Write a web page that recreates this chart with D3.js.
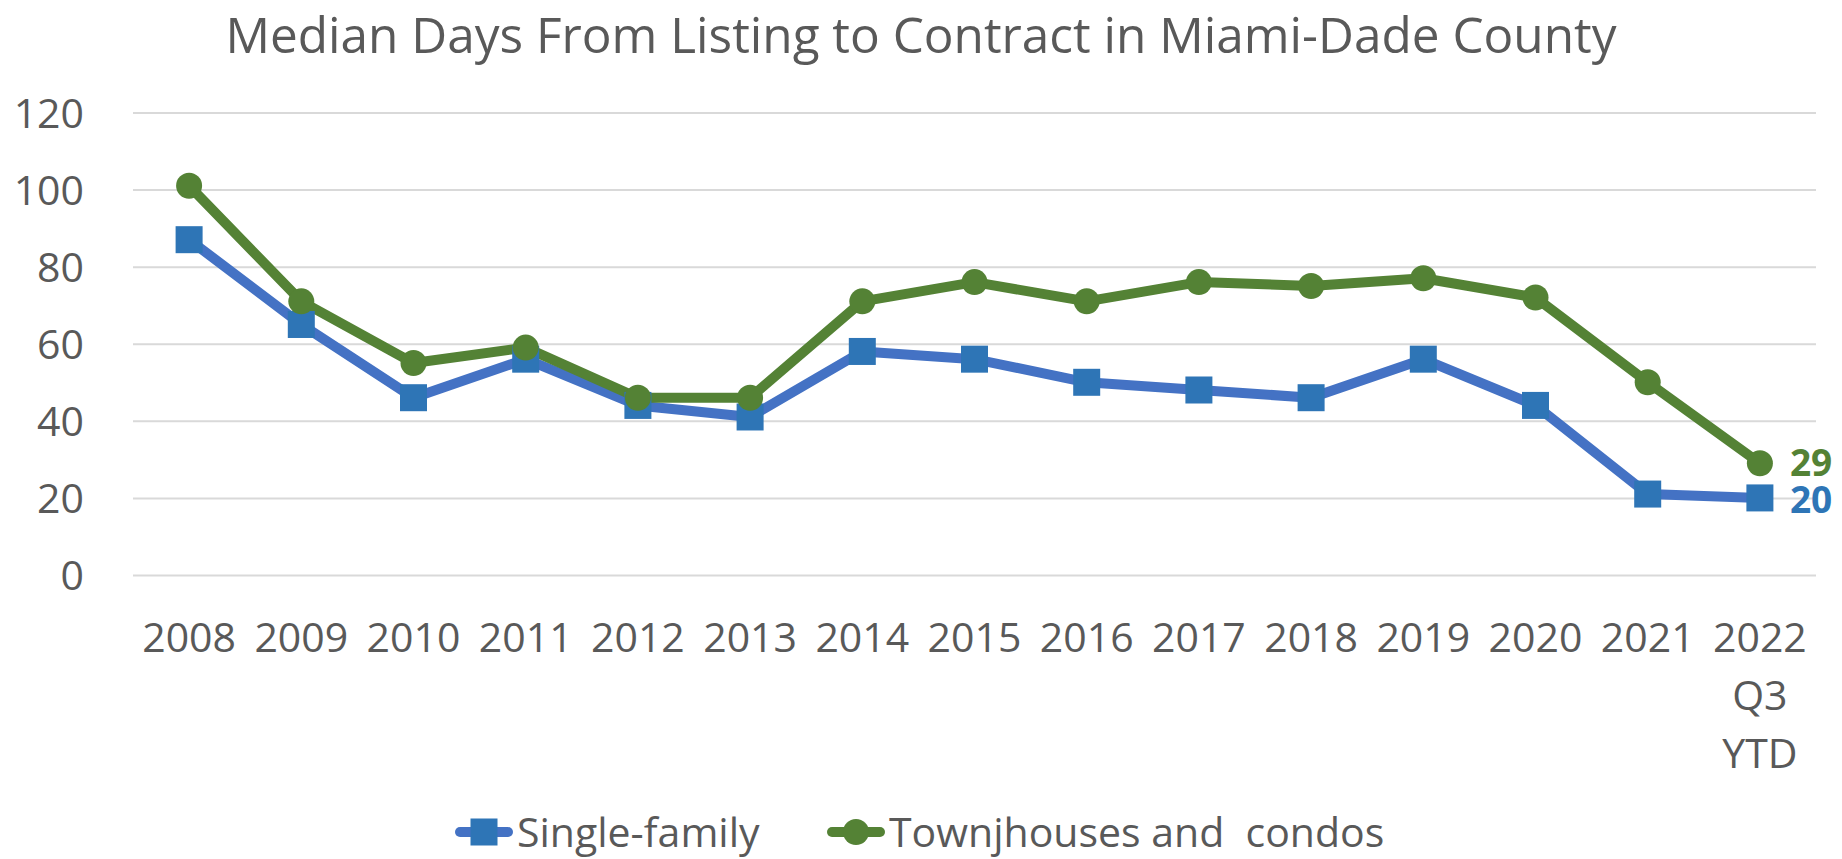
<!DOCTYPE html>
<html>
<head>
<meta charset="utf-8">
<script src="https://cdn.jsdelivr.net/npm/d3@7"></script>
<style>
    body { margin: 0; background: #fff; }
    svg text { font-family: "Open Sans", sans-serif; fill: #595959; }
</style>
</head>
<body>
<div id="vis"></div>
<script>
// Chart data
var years = ['2008', '2009', '2010', '2011', '2012', '2013', '2014', '2015',
             '2016', '2017', '2018', '2019', '2020', '2021', '2022'];
var yearLabels = ['2008', '2009', '2010', '2011', '2012', '2013', '2014', '2015',
                  '2016', '2017', '2018', '2019', '2020', '2021', '2022|Q3|YTD'];
var singleFamily = [87, 65, 46, 56, 44, 41, 58, 56, 50, 48, 46, 56, 44, 21, 20];
var townhouses = [101, 71, 55, 59, 46, 46, 71, 76, 71, 76, 75, 77, 72, 50, 29];
var yTicks = [0, 20, 40, 60, 80, 100, 120];
var seriesNames = ['Single-family', 'Townjhouses and  condos'];
var titleText = 'Median Days From Listing to Contract in Miami-Dade County';

// Colours for the two series
var blueLine = '#4472C4', blueMark = '#2E75B6', green = '#548235';

// Margin in SVG for axes and titles
var margin = { left: 133, top: 112.5, right: 26, bottom: 284 };
var width = 1842 - margin.left - margin.right;
var height = 859 - margin.top - margin.bottom;

var svg = d3.select('#vis')
    .append('svg')
    .attr('width', 1842)
    .attr('height', 859);

var g = svg.append('g')
    .attr('transform', 'translate(' + margin.left + ',' + margin.top + ')');

/* ********************************** Scales ********************************** */
var xScale = d3.scaleBand()
    .domain(years)
    .range([0, width])
    .padding(0);

var yScale = d3.scaleLinear()
    .domain([0, 120])
    .range([height, 0]);

var xMid = function(i) { return xScale(years[i]) + xScale.bandwidth() / 2; };

/* ********************************** Axes ********************************** */
// y axis doubles as the gridlines
var yAxis = d3.axisLeft(yScale)
    .tickValues(yTicks)
    .tickSize(-width)
    .tickPadding(49);

var yAxisG = g.append('g').attr('class', 'axis').call(yAxis);
yAxisG.select('.domain').remove();
yAxisG.selectAll('line').attr('stroke', '#D9D9D9').attr('stroke-width', 2);
yAxisG.selectAll('text')
    .attr('font-size', 41)
    .attr('dy', '0.36em');
yAxisG.attr('font-family', null).attr('font-size', null);

var xAxis = d3.axisBottom(xScale).tickSize(0)
    .tickFormat(function(d, i) { return yearLabels[i]; });

var xAxisG = g.append('g')
    .attr('transform', 'translate(0,' + height + ')')
    .call(xAxis);
xAxisG.select('.domain').remove();
xAxisG.attr('font-family', null).attr('font-size', null);
xAxisG.selectAll('text')
    .attr('font-size', 41)
    .attr('dy', null)
    .each(function(d, i) {
        var t = d3.select(this);
        var lines = yearLabels[i].split('|');
        t.text(null);
        lines.forEach(function(l, j) {
            t.append('tspan')
                .attr('x', 0)
                .attr('y', 77 + j * 58)
                .text(l);
        });
    });

/* ********************************** Lines and markers ********************************** */
var line = d3.line()
    .x(function(d, i) { return xMid(i); })
    .y(function(d) { return yScale(d); });

g.append('path')
    .datum(singleFamily)
    .attr('d', line)
    .attr('fill', 'none')
    .attr('stroke', blueLine)
    .attr('stroke-width', 10)
    .attr('stroke-linejoin', 'round')
    .attr('stroke-linecap', 'round');

g.append('path')
    .datum(townhouses)
    .attr('d', line)
    .attr('fill', 'none')
    .attr('stroke', green)
    .attr('stroke-width', 10)
    .attr('stroke-linejoin', 'round')
    .attr('stroke-linecap', 'round');

var sq = 27;
g.selectAll('rect.sf').data(singleFamily).enter().append('rect')
    .attr('class', 'sf')
    .attr('x', function(d, i) { return xMid(i) - sq / 2; })
    .attr('y', function(d) { return yScale(d) - sq / 2; })
    .attr('width', sq)
    .attr('height', sq)
    .attr('fill', blueMark);

g.selectAll('circle.th').data(townhouses).enter().append('circle')
    .attr('class', 'th')
    .attr('cx', function(d, i) { return xMid(i); })
    .attr('cy', function(d) { return yScale(d); })
    .attr('r', 13)
    .attr('fill', green);

// Data labels on last point
var last = years.length - 1;
g.append('text')
    .attr('x', xMid(last) + 30)
    .attr('y', yScale(townhouses[last]) - 1)
    .attr('dy', '0.36em')
    .attr('font-size', 37)
    .attr('font-weight', 'bold')
    .style('fill', green)
    .text(townhouses[last]);

g.append('text')
    .attr('x', xMid(last) + 30)
    .attr('y', yScale(singleFamily[last]) + 2)
    .attr('dy', '0.36em')
    .attr('font-size', 37)
    .attr('font-weight', 'bold')
    .style('fill', blueMark)
    .text(singleFamily[last]);

/* ********************************** Title ********************************** */
svg.append('text')
    .attr('x', 921)
    .attr('y', 53)
    .attr('text-anchor', 'middle')
    .attr('font-size', 49.5)
    .text(titleText);

/* ********************************** Legend ********************************** */
var legendY = 832;
var legendX = [456, 828];

var legend = svg.selectAll('g.legend').data(seriesNames).enter().append('g')
    .attr('class', 'legend')
    .attr('transform', function(d, i) { return 'translate(' + legendX[i] + ',' + legendY + ')'; });

legend.append('line')
    .attr('x1', 4).attr('x2', 52)
    .attr('stroke', function(d, i) { return i === 0 ? blueLine : green; })
    .attr('stroke-width', 10)
    .attr('stroke-linecap', 'round');

legend.filter(function(d, i) { return i === 0; }).append('rect')
    .attr('x', 28 - sq / 2).attr('y', -sq / 2)
    .attr('width', sq).attr('height', sq)
    .attr('fill', blueMark);

legend.filter(function(d, i) { return i === 1; }).append('circle')
    .attr('cx', 28).attr('r', 13)
    .attr('fill', green);

legend.append('text')
    .attr('x', 61)
    .attr('dy', '0.36em')
    .attr('font-size', 41)
    .style('white-space', 'pre')
    .text(function(d) { return d; });
</script>
</body>
</html>
